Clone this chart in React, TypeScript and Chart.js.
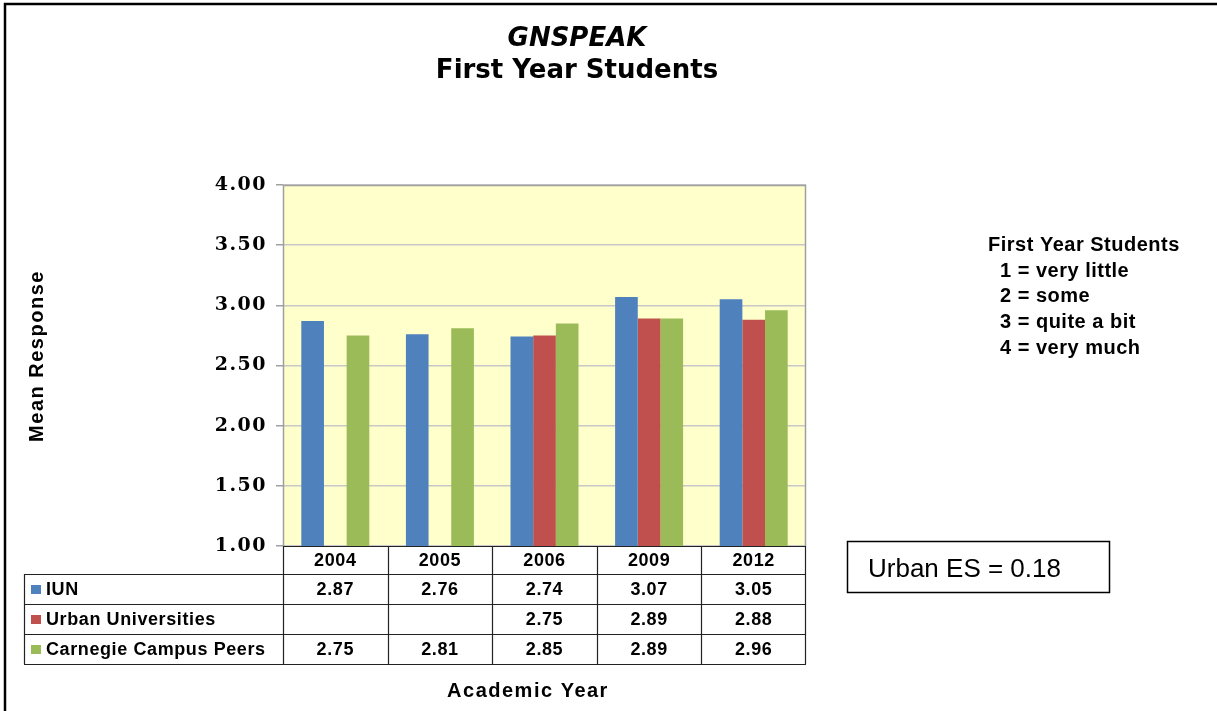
import React, { useEffect, useRef } from "react";
import { Chart, registerables } from "chart.js";

Chart.register(...registerables);

// ---- data ----
const years = ["2004", "2005", "2006", "2009", "2012"];
const seriesNames = ["IUN", "Urban Universities", "Carnegie Campus Peers"];
const iunValues = [2.87, 2.76, 2.74, 3.07, 3.05];
const urbanValues = [null, null, 2.75, 2.89, 2.88];
const carnegieValues = [2.75, 2.81, 2.85, 2.89, 2.96];
const seriesColors = ["#4F81BD", "#C0504D", "#9BBB59"];
const yMin = 1;
const yMax = 4;
const yStep = 0.5;

const titleLine1 = "GNSPEAK";
const titleLine2 = "First Year Students";
const yAxisTitle = "Mean Response";
const xAxisTitle = "Academic Year";
const scaleNoteTitle = "First Year Students";
const scaleNotes = ["1 = very little", "2 = some", "3 = quite a bit", "4 = very much"];
const esNote = "Urban ES = 0.18";

const W = 1217;
const H = 711;

const allSeries = [iunValues, urbanValues, carnegieValues];

const decorPlugin = {
  id: "decor",
  beforeDraw(chart: any) {
    const ctx = chart.ctx as CanvasRenderingContext2D;
    const a = chart.chartArea;
    ctx.save();
    ctx.fillStyle = "#FFFFFF";
    ctx.fillRect(0, 0, W, H);
    ctx.fillStyle = "#FFFFCC";
    ctx.fillRect(a.left, a.top, a.right - a.left, a.bottom - a.top);
    ctx.restore();
    (ctx as any).letterSpacing = "1.5px";
  },
  afterDraw(chart: any) {
    const ctx = chart.ctx as CanvasRenderingContext2D;
    const a = chart.chartArea;
    const xs = chart.scales.x;
    (ctx as any).letterSpacing = "0px";
    ctx.save();

    // plot frame
    ctx.strokeStyle = "#A0A0A0";
    ctx.lineWidth = 1.5;
    ctx.beginPath();
    ctx.moveTo(a.left + 0.5, a.bottom);
    ctx.lineTo(a.left + 0.5, a.top + 0.5);
    ctx.lineTo(a.right - 0.5, a.top + 0.5);
    ctx.lineTo(a.right - 0.5, a.bottom);
    ctx.stroke();

    // outer frame
    ctx.strokeStyle = "#000";
    ctx.lineWidth = 2.5;
    ctx.beginPath();
    ctx.moveTo(5, H);
    ctx.lineTo(5, 4);
    ctx.lineTo(W, 4);
    ctx.stroke();

    // data table
    const n = years.length;
    const half = n > 1 ? (xs.getPixelForValue(1) - xs.getPixelForValue(0)) / 2 : (a.right - a.left) / 2;
    const tableLeft = 24;
    const headerTop = a.bottom;
    const headerBottom = headerTop + 28;
    const rowH = 30;
    const tableBottom = headerBottom + rowH * seriesNames.length;
    ctx.strokeStyle = "#222";
    ctx.lineWidth = 1.2;
    ctx.beginPath();
    ctx.moveTo(a.left, headerTop + 0.5);
    ctx.lineTo(a.right, headerTop + 0.5);
    for (let r = 0; r <= seriesNames.length; r++) {
      const y = Math.round(headerBottom + r * rowH) + 0.5;
      ctx.moveTo(tableLeft, y);
      ctx.lineTo(a.right, y);
    }
    ctx.moveTo(tableLeft + 0.5, headerBottom);
    ctx.lineTo(tableLeft + 0.5, tableBottom);
    for (let i = 0; i < n; i++) {
      const xl = Math.round(xs.getPixelForValue(i) - half) + 0.5;
      ctx.moveTo(xl, headerTop);
      ctx.lineTo(xl, tableBottom);
    }
    const xr = Math.round(xs.getPixelForValue(n - 1) + half) - 0.5;
    ctx.moveTo(xr, headerTop);
    ctx.lineTo(xr, tableBottom);
    ctx.stroke();

    ctx.fillStyle = "#000";
    ctx.textBaseline = "middle";
    ctx.textAlign = "center";
    ctx.font = "bold 18px 'Liberation Sans', Arial, sans-serif";
    (ctx as any).letterSpacing = "0.6px";
    for (let i = 0; i < n; i++) {
      ctx.fillText(years[i], xs.getPixelForValue(i), (headerTop + headerBottom) / 2 + 1);
    }
    for (let r = 0; r < seriesNames.length; r++) {
      const yc = headerBottom + r * rowH + rowH / 2 + 1;
      const vals = allSeries[r];
      ctx.textAlign = "center";
      for (let i = 0; i < n; i++) {
        const v = vals[i];
        if (v !== null && v !== undefined) {
          ctx.fillText((v as number).toFixed(2), xs.getPixelForValue(i), yc);
        }
      }
      ctx.fillStyle = seriesColors[r];
      ctx.fillRect(31, Math.round(yc) - 5, 10, 9);
      ctx.fillStyle = "#000";
      ctx.textAlign = "left";
      ctx.fillText(seriesNames[r], 46, yc);
    }

    // titles
    (ctx as any).letterSpacing = "0px";
    ctx.textAlign = "center";
    ctx.textBaseline = "alphabetic";
    ctx.font = "italic bold 26px 'DejaVu Sans', Verdana, sans-serif";
    ctx.fillText(titleLine1, 577, 46);
    ctx.font = "bold 26px 'DejaVu Sans', Verdana, sans-serif";
    ctx.fillText(titleLine2, 577, 78);

    // axis titles
    (ctx as any).letterSpacing = "1.5px";
    ctx.font = "bold 20px 'Liberation Sans', Arial, sans-serif";
    ctx.fillText(xAxisTitle, 528, 697);
    ctx.save();
    ctx.translate(43, 356);
    ctx.rotate(-Math.PI / 2);
    ctx.fillText(yAxisTitle, 0, 0);
    ctx.restore();

    // scale notes
    (ctx as any).letterSpacing = "0.5px";
    ctx.textAlign = "left";
    ctx.font = "bold 20px 'Liberation Sans', Arial, sans-serif";
    ctx.fillText(scaleNoteTitle, 988, 251);
    scaleNotes.forEach((t, i) => {
      ctx.fillText(t, 1000, 276.5 + i * 25.7);
    });

    // ES box
    (ctx as any).letterSpacing = "0px";
    ctx.strokeStyle = "#000";
    ctx.lineWidth = 1.5;
    ctx.strokeRect(847.5, 541.5, 262, 51);
    ctx.font = "26px 'Liberation Sans', Arial, sans-serif";
    ctx.fillText(esNote, 868, 577);

    ctx.restore();
  },
};

export default function App() {
  const ref = useRef<HTMLCanvasElement | null>(null);
  useEffect(() => {
    document.body.style.margin = "0";
    const canvas = ref.current;
    if (!canvas) return;
    const chart = new Chart(canvas, {
      type: "bar",
      data: {
        labels: years,
        datasets: [
          { label: seriesNames[0], data: iunValues as any, backgroundColor: seriesColors[0] },
          { label: seriesNames[1], data: urbanValues as any, backgroundColor: seriesColors[1] },
          { label: seriesNames[2], data: carnegieValues as any, backgroundColor: seriesColors[2] },
        ],
      },
      options: {
        responsive: false,
        animation: false,
        devicePixelRatio: 1,
        layout: { padding: { left: 183, top: 185, right: 411, bottom: 165 } },
        datasets: { bar: { categoryPercentage: 0.65, barPercentage: 1.0 } },
        plugins: {
          legend: { display: false },
          title: { display: false },
          tooltip: { enabled: false },
        },
        scales: {
          x: { display: false },
          y: {
            min: yMin,
            max: yMax,
            afterFit: (scale: any) => {
              scale.width = 100;
            },
            border: { display: false },
            grid: {
              color: "#C8C8C8",
              lineWidth: 1.5,
              tickLength: 7,
              tickColor: "#A0A0A0",
            },
            ticks: {
              stepSize: yStep,
              padding: 9,
              color: "#000",
              font: { family: "'DejaVu Serif', serif", size: 19, weight: "bold" },
              callback: (v: any) => Number(v).toFixed(2),
            },
          },
        },
      },
      plugins: [decorPlugin],
    });
    return () => chart.destroy();
  }, []);
  return (
    <div style={{ position: "absolute", left: 0, top: 0, width: W, height: H }}>
      <canvas ref={ref} width={W} height={H} style={{ display: "block" }} />
    </div>
  );
}
